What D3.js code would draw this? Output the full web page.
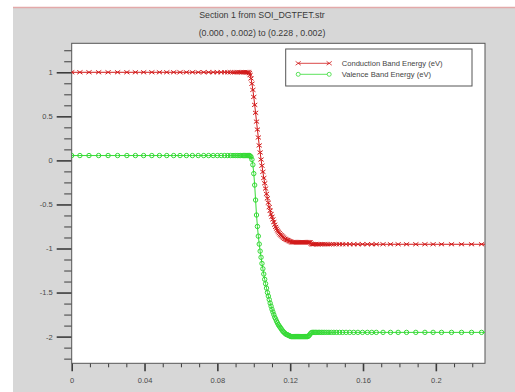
<!DOCTYPE html>
<html>
<head>
<meta charset="utf-8">
<script src="https://cdn.jsdelivr.net/npm/d3@7"></script>
<style>
  body { margin: 0; background: #fff; }
  text { font-family: "Liberation Sans", Arial, sans-serif; }
</style>
</head>
<body>
<svg class="chart" width="515" height="392"></svg>
<script>
(function () {

    'use strict';

    // cut-line positions (um) along the section
    var meshX = [
        0, 0.0045, 0.0095, 0.0148, 0.02, 0.0252, 0.0303, 0.035, 0.0395, 0.044,
        0.0482, 0.0522, 0.056, 0.0595, 0.063, 0.0663, 0.0695, 0.0725, 0.0752, 0.0777,
        0.08, 0.0821, 0.084, 0.0857, 0.0872, 0.0886, 0.0898, 0.0909, 0.0919, 0.0928,
        0.0936, 0.0943, 0.095, 0.0956, 0.0962, 0.0967, 0.0972, 0.0976,
        0.098, 0.0985, 0.099, 0.0995, 0.1, 0.1005, 0.101, 0.1015, 0.102, 0.1025,
        0.103, 0.1035, 0.104, 0.1045, 0.105, 0.1055, 0.106, 0.1065, 0.107, 0.1075,
        0.108, 0.1085, 0.109, 0.1095, 0.11, 0.1105, 0.111, 0.1115, 0.112, 0.1125,
        0.113, 0.1135, 0.114, 0.1145, 0.115, 0.1155, 0.116, 0.1165, 0.117, 0.1175,
        0.118, 0.1185, 0.119, 0.1195, 0.12, 0.1205, 0.121, 0.1215, 0.122, 0.1225,
        0.123, 0.1235, 0.124, 0.1245, 0.125, 0.1255, 0.126, 0.1265, 0.127, 0.1275,
        0.128, 0.1285, 0.129, 0.1295, 0.13, 0.1305, 0.131,
        0.1315, 0.132, 0.1326, 0.1332, 0.1339, 0.1346, 0.1354, 0.1362, 0.1371, 0.138,
        0.139, 0.1401, 0.1413, 0.1426, 0.144, 0.1455, 0.1471, 0.1488, 0.1507, 0.1527,
        0.1549, 0.1572, 0.1597, 0.1624, 0.1648, 0.1673, 0.171, 0.1751, 0.1793, 0.1839,
        0.189, 0.194, 0.1985, 0.2031, 0.2086, 0.2141, 0.2196, 0.2251, 0.2285
    ];

    var conductionBand = [
        1, 1, 1, 1, 1, 1, 1, 1, 1, 1,
        1, 1, 1, 1, 1, 1, 1, 1, 1, 1,
        1, 1, 1, 1, 1, 1, 1, 1, 1, 1,
        1, 1, 1, 1, 1, 1, 1, 0.99,
        0.97, 0.93, 0.87, 0.8, 0.72, 0.63, 0.54, 0.44, 0.35, 0.26,
        0.17, 0.09, 0.01, -0.06, -0.13, -0.2, -0.26, -0.32, -0.38, -0.43,
        -0.48, -0.53, -0.57, -0.61, -0.64, -0.67, -0.7, -0.73, -0.755, -0.775,
        -0.795, -0.81, -0.825, -0.84, -0.85, -0.86, -0.87, -0.88, -0.89, -0.895,
        -0.9, -0.905, -0.91, -0.915, -0.92, -0.925, -0.93, -0.93, -0.93, -0.93,
        -0.93, -0.93, -0.93, -0.93, -0.93, -0.93, -0.93, -0.93, -0.93, -0.93,
        -0.93, -0.93, -0.93, -0.93, -0.93, -0.93, -0.93,
        -0.945, -0.952, -0.952, -0.952, -0.952, -0.952, -0.952, -0.952, -0.952, -0.952,
        -0.952, -0.952, -0.952, -0.952, -0.952, -0.952, -0.952, -0.952, -0.952, -0.952,
        -0.952, -0.952, -0.952, -0.952, -0.952, -0.952, -0.952, -0.952, -0.952, -0.952,
        -0.952, -0.952, -0.952, -0.952, -0.952, -0.952, -0.952, -0.952, -0.952
    ];

    var valenceBand = [
        0.055, 0.055, 0.055, 0.055, 0.055, 0.055, 0.055, 0.055, 0.055, 0.055,
        0.055, 0.055, 0.055, 0.055, 0.055, 0.055, 0.055, 0.055, 0.055, 0.055,
        0.055, 0.055, 0.055, 0.055, 0.055, 0.055, 0.055, 0.055, 0.055, 0.055,
        0.055, 0.055, 0.055, 0.055, 0.055, 0.055, 0.055, 0.055,
        0.05, 0.04, 0.01, -0.05, -0.15, -0.28, -0.45, -0.62, -0.75, -0.86,
        -0.95, -1.03, -1.1, -1.17, -1.23, -1.29, -1.35, -1.4, -1.45, -1.5,
        -1.54, -1.58, -1.62, -1.655, -1.69, -1.72, -1.75, -1.78, -1.8, -1.825,
        -1.845, -1.865, -1.88, -1.895, -1.91, -1.925, -1.94, -1.95, -1.96, -1.97,
        -1.975, -1.98, -1.985, -1.99, -1.995, -2, -2, -2, -2, -2,
        -2, -2, -2, -2, -2, -2, -2, -2, -2, -2,
        -2, -2, -2, -2, -1.995, -1.985, -1.97,
        -1.958, -1.952, -1.952, -1.952, -1.952, -1.952, -1.952, -1.952, -1.952, -1.952,
        -1.952, -1.952, -1.952, -1.952, -1.952, -1.952, -1.952, -1.952, -1.952, -1.952,
        -1.952, -1.952, -1.952, -1.952, -1.952, -1.952, -1.952, -1.952, -1.952, -1.952,
        -1.952, -1.952, -1.952, -1.952, -1.952, -1.952, -1.952, -1.952, -1.952
    ];

    var xTicks = [0, 0.04, 0.08, 0.12, 0.16, 0.2];
    var yTicks = [1, 0.5, 0, -0.5, -1, -1.5, -2];
    var seriesNames = ['Conduction Band Energy (eV)', 'Valence Band Energy (eV)'];
    var titleLines = ['Section 1 from SOI_DGTFET.str', '(0.000 , 0.002) to (0.228 , 0.002)'];

    var svg = d3.select('svg.chart');
    var margin = { top: 43.3, left: 71.7 };
    var width = 413.3, height = 320;

    // grey window background
    svg.append('rect').attr('x', 13).attr('y', 7.5).attr('width', 502).attr('height', 385).attr('fill', '#d7d7d7');
    svg.append('line').attr('x1', 13).attr('x2', 515).attr('y1', 7.5).attr('y2', 7.5)
        .attr('stroke', '#e3a9a9').attr('stroke-width', 1.5);

    svg.selectAll('text.title')
        .data(titleLines)
        .enter().append('text')
        .attr('class', 'title')
        .attr('x', 262)
        .attr('y', function (d, i) { return 18 + i * 18; })
        .attr('text-anchor', 'middle')
        .attr('font-size', 8.8)
        .attr('fill', '#3a3a3a')
        .text(function (d) { return d; });

    var g = svg.append('g').attr('transform', 'translate(' + margin.left + ',' + margin.top + ')');

    var x = d3.scaleLinear().domain([0, 0.227]).range([0, width]);
    var y = d3.scaleLinear().domain([-2.303, 1.329]).range([height, 0]);

    g.append('rect').attr('width', width).attr('height', height).attr('fill', '#fff');

    g.append('clipPath').attr('id', 'plotclip')
        .append('rect').attr('width', width).attr('height', height);

    // minor ticks
    var xMinor = d3.range(0, 0.2271, 0.01).filter(function (v) { return Math.abs(v / 0.04 - Math.round(v / 0.04)) > 1e-6; });
    var yMinor = d3.range(-2.25, 1.3, 0.125).filter(function (v) { return Math.abs(v * 2 - Math.round(v * 2)) > 1e-6; });

    g.append('g')
        .attr('class', 'axis minor')
        .attr('transform', 'translate(0,' + height + ')')
        .call(d3.axisBottom(x).tickValues(xMinor).tickSize(4).tickFormat(''));

    g.append('g')
        .attr('class', 'axis minor')
        .call(d3.axisLeft(y).tickValues(yMinor).tickSize(7.5).tickFormat(''));

    g.append('g')
        .attr('class', 'axis major')
        .attr('transform', 'translate(0,' + height + ')')
        .call(d3.axisBottom(x).tickValues(xTicks).tickSize(8).tickPadding(6).tickFormat(function (d) { return String(d); }));

    g.append('g')
        .attr('class', 'axis major')
        .call(d3.axisLeft(y).tickValues(yTicks).tickSize(15).tickPadding(4).tickFormat(function (d) { return String(d); }));

    g.selectAll('.axis .domain').remove();
    g.selectAll('.axis line').attr('stroke', '#3c3c3c');
    g.selectAll('.axis.major line').attr('stroke-width', 1.6);
    g.selectAll('.axis text').attr('font-size', 7.5).attr('fill', '#4a4a4a')
        .attr('font-family', '"Liberation Sans", Arial, sans-serif');

    g.append('rect').attr('width', width).attr('height', height)
        .attr('fill', 'none').attr('stroke', '#555').attr('stroke-width', 1);

    var red = '#d21a1a', green = '#35da35';
    var crossPath = 'M-2.6,-1.9L2.6,1.9M-2.6,1.9L2.6,-1.9';

    var line = d3.line()
        .x(function (d) { return x(d.x); })
        .y(function (d) { return y(d.y); });

    var condData = meshX.map(function (d, i) { return { x: d, y: conductionBand[i] }; });
    var valData = meshX.map(function (d, i) { return { x: d, y: valenceBand[i] }; });

    var plot = g.append('g').attr('clip-path', 'url(#plotclip)');

    plot.append('path').datum(condData)
        .attr('d', line).attr('fill', 'none').attr('stroke', red).attr('stroke-width', 1);
    plot.append('g').selectAll('path')
        .data(condData)
        .enter().append('path')
        .attr('transform', function (d) { return 'translate(' + x(d.x) + ',' + y(d.y) + ')'; })
        .attr('d', crossPath)
        .attr('fill', 'none').attr('stroke', red).attr('stroke-width', 1);

    plot.append('path').datum(valData)
        .attr('d', line).attr('fill', 'none').attr('stroke', green).attr('stroke-width', 1);
    plot.append('g').selectAll('circle')
        .data(valData)
        .enter().append('circle')
        .attr('cx', function (d) { return x(d.x); })
        .attr('cy', function (d) { return y(d.y); })
        .attr('r', 2.2)
        .attr('fill', 'none').attr('stroke', green).attr('stroke-width', 1);

    // legend
    var legend = svg.append('g').attr('transform', 'translate(285.7,49)');
    legend.append('rect').attr('width', 186.3).attr('height', 37)
        .attr('fill', '#fff').attr('stroke', '#555').attr('stroke-width', 1);

    var entries = legend.selectAll('g')
        .data(seriesNames)
        .enter().append('g')
        .attr('transform', function (d, i) { return 'translate(0,' + (14.3 + i * 11) + ')'; });

    entries.append('line')
        .attr('x1', 12.5).attr('x2', 43.5)
        .attr('stroke', function (d, i) { return i ? green : red; })
        .attr('stroke-width', 0.8);

    entries.each(function (d, i) {
        var e = d3.select(this);
        [12.5, 43.5].forEach(function (px) {
            if (i) {
                e.append('circle').attr('cx', px).attr('r', 2).attr('fill', '#fff')
                    .attr('stroke', green).attr('stroke-width', 0.8);
            } else {
                e.append('path').attr('transform', 'translate(' + px + ',0)').attr('d', crossPath)
                    .attr('fill', 'none').attr('stroke', red).attr('stroke-width', 0.8);
            }
        });
    });

    entries.append('text')
        .attr('x', 56)
        .attr('dy', '0.32em')
        .attr('font-size', 7.6)
        .attr('fill', '#444')
        .text(function (d) { return d; });
})();
</script>
</body>
</html>
